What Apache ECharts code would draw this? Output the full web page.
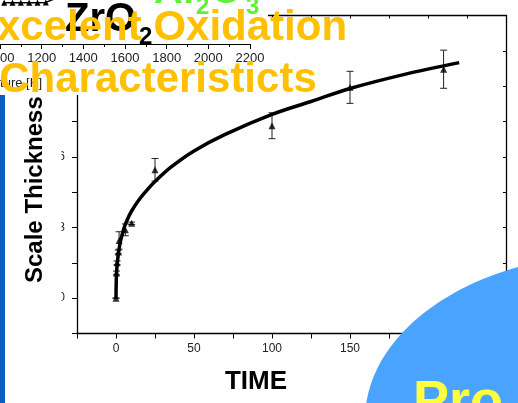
<!DOCTYPE html>
<html>
<head>
<meta charset="utf-8">
<script src="https://cdn.jsdelivr.net/npm/echarts@6/dist/echarts.min.js"></script>
<style>
html, body { margin: 0; padding: 0; background: #fff; }
#chart { width: 518px; height: 403px; }
</style>
</head>
<body>
<div id="chart"></div>
<script>
// Oxide scale growth: measured thickness against exposure time, with error bars
const obsTime = [0, 0.3, 0.7, 1.5, 2, 6, 10, 25, 100, 150, 210];
const obsThickness = [0, 1.07, 1.5, 1.96, 2.45, 2.9, 3.18, 5.45, 7.32, 8.95, 9.72];
const obsError = [0, 0.08, 0.08, 0.08, 0.37, 0.25, 0.05, 0.48, 0.55, 0.68, 0.81];

// growth curve traced through the measurements
const fitTime = [0, 0.3, 1, 2, 3, 5, 7, 10, 15, 20, 25, 35, 50, 70, 100, 125, 150, 185, 220];
const fitThickness = [0, 1.0, 1.6, 2.1, 2.45, 2.95, 3.3, 3.7, 4.2, 4.6, 4.95, 5.55, 6.25, 6.95, 7.8, 8.35, 8.9, 9.5, 10.0];

// small temperature panel in the corner
const insetTemp = [1020, 1060, 1100, 1140, 1180, 1220, 1300];
const insetValue = [94, 94, 94, 94, 94, 94.5, 110];

const FONT = '"Liberation Sans", Arial, Helvetica, sans-serif';

const obsPoints = obsTime.map((t, i) => [t, obsThickness[i]]);
const errPoints = obsTime.map((t, i) => [t, obsThickness[i] - obsError[i], obsThickness[i] + obsError[i]]);
const fitPoints = fitTime.map((t, i) => [t, fitThickness[i]]);
const insetPoints = insetTemp.map((t, i) => [t, insetValue[i]]);

const chart = echarts.init(document.getElementById('chart'), null, { renderer: 'canvas' });

const frameLine = { lineStyle: { color: '#000', width: 1.3 } };

function label(text, x, y, font, fill, align, z, extra) {
  return Object.assign({
    type: 'text', z: z, x: x, y: y,
    style: { text: text, fill: fill, font: font, align: align, textAlign: align, verticalAlign: 'middle', textVerticalAlign: 'middle' }
  }, extra || {});
}

const option = {
  animation: false,
  backgroundColor: '#fff',
  grid: [
    { left: 77, right: 12, top: 15.5, bottom: 69.5, outerBoundsMode: 'none', containLabel: false },
    { left: 0, width: 250, top: 0, height: 44, outerBoundsMode: 'none', containLabel: false }
  ],
  xAxis: [
    {
      gridIndex: 0, type: 'value', position: 'bottom', min: -25, max: 250, interval: 25,
      axisLine: Object.assign({ onZero: false }, frameLine),
      axisTick: { length: 5, lineStyle: { color: '#000', width: 1 } },
      axisLabel: {
        fontSize: 12, color: '#222', margin: 9, fontFamily: FONT,
        formatter: v => (v % 50 === 0 ? String(v) : '')
      },
      splitLine: { show: false }
    },
    {
      gridIndex: 0, type: 'value', position: 'top', min: -25, max: 250, interval: 25,
      axisLine: Object.assign({ onZero: false }, frameLine),
      axisTick: { inside: true, length: 3, lineStyle: { color: '#000', width: 1 } },
      axisLabel: { show: false },
      splitLine: { show: false }
    },
    {
      gridIndex: 1, type: 'value', min: 1000, max: 2200, interval: 200, z: 6,
      axisLine: { onZero: false, lineStyle: { color: '#000', width: 1 } },
      axisTick: { length: 5, lineStyle: { color: '#000', width: 1 } },
      minorTick: { show: true, splitNumber: 2, length: 3, lineStyle: { color: '#000', width: 1 } },
      axisLabel: { fontSize: 13, color: '#222', margin: 8, fontFamily: FONT, formatter: v => String(v) },
      splitLine: { show: false }
    }
  ],
  yAxis: [
    {
      gridIndex: 0, type: 'value', position: 'left', min: -1.5, max: 12, interval: 1.5,
      axisLine: Object.assign({ onZero: false }, frameLine),
      axisTick: { length: 5, lineStyle: { color: '#000', width: 1 } },
      axisLabel: {
        fontSize: 12, color: '#222', margin: 12, fontFamily: FONT,
        formatter: v => (Math.abs(v % 3) < 1e-9 ? String(v) : '')
      },
      splitLine: { show: false }
    },
    {
      gridIndex: 0, type: 'value', position: 'right', min: -1.5, max: 12, interval: 1.5,
      axisLine: Object.assign({ onZero: false }, frameLine),
      axisTick: { inside: true, length: 3, lineStyle: { color: '#000', width: 1 } },
      axisLabel: { show: false },
      splitLine: { show: false }
    },
    { gridIndex: 1, type: 'value', min: 0, max: 100, show: false }
  ],
  series: [
    {
      name: 'fit', type: 'line', xAxisIndex: 0, yAxisIndex: 0, data: fitPoints,
      smooth: 0.35, showSymbol: false, symbol: 'none', z: 3,
      lineStyle: { color: '#000', width: 3.5 }
    },
    {
      name: 'error', type: 'custom', xAxisIndex: 0, yAxisIndex: 0, data: errPoints, z: 3,
      encode: { x: 0, y: [1, 2] },
      renderItem: function (params, api) {
        const t = api.value(0);
        const top = api.coord([t, api.value(2)]);
        const bot = api.coord([t, api.value(1)]);
        const w = 3.5;
        const st = { stroke: '#222', lineWidth: 1 };
        return {
          type: 'group',
          children: [
            { type: 'line', shape: { x1: top[0], y1: top[1], x2: bot[0], y2: bot[1] }, style: st },
            { type: 'line', shape: { x1: top[0] - w, y1: top[1], x2: top[0] + w, y2: top[1] }, style: st },
            { type: 'line', shape: { x1: bot[0] - w, y1: bot[1], x2: bot[0] + w, y2: bot[1] }, style: st }
          ]
        };
      }
    },
    {
      name: 'measured', type: 'scatter', xAxisIndex: 0, yAxisIndex: 0, data: obsPoints,
      symbol: 'triangle', symbolSize: 7, z: 4,
      itemStyle: { color: '#000' }
    },
    {
      name: 'inset', type: 'line', xAxisIndex: 2, yAxisIndex: 2, data: insetPoints,
      symbol: 'triangle', symbolSize: 6, showSymbol: true, clip: true, z: 7,
      lineStyle: { color: '#000', width: 1.5 },
      itemStyle: { color: '#000' }
    }
  ],
  graphic: [
    // white backing of the corner panel and of the axis title box
    { type: 'rect', z: 5, shape: { x: 0, y: 0, width: 268, height: 95 }, style: { fill: '#fff' } },
    { type: 'rect', z: 5, shape: { x: 5, y: 95, width: 56.5, height: 308 }, style: { fill: '#fff' } },
    label('Temperature [K]', 42, 83, '13px ' + FONT, '#222', 'right', 6),
    // ZrO2
    label('ZrO', 65, 20, 'bold 40px ' + FONT, '#000', 'left', 8),
    label('2', 139, 37, 'bold 24px ' + FONT, '#000', 'left', 8),
    // Al2O3
    label('Al', 154, -8, 'bold 40px ' + FONT, '#5FF03A', 'left', 9),
    label('2', 196, 7, 'bold 24px ' + FONT, '#5FF03A', 'left', 9),
    label('O', 211, -8, 'bold 40px ' + FONT, '#5FF03A', 'left', 9),
    label('3', 246, 7, 'bold 24px ' + FONT, '#5FF03A', 'left', 9),
    // headline
    label('Excelent Oxidation', 158, 28, 'bold 42px ' + FONT, '#FFC000', 'center', 10),
    label('Characteristicts', 158, 80, 'bold 42px ' + FONT, '#FFC000', 'center', 10),
    // left accent bar
    { type: 'rect', z: 9, shape: { x: 0, y: 95, width: 5, height: 308 }, style: { fill: '#0B5EC0' } },
    // axis titles
    label('Scale Thickness', 35, 283, 'bold 24px ' + FONT, '#000', 'left', 9, { rotation: Math.PI / 2 }),
    label('TIME', 256, 382, 'bold 26px ' + FONT, '#000', 'center', 9),
    // corner badge
    { type: 'ellipse', z: 11, shape: { cx: 615, cy: 420, rx: 250, ry: 166 }, style: { fill: '#4AA3FF' } },
    label('Pro', 413, 403, 'bold 54px ' + FONT, '#FFFF40', 'left', 12)
  ]
};

chart.setOption(option);
</script>
</body>
</html>
